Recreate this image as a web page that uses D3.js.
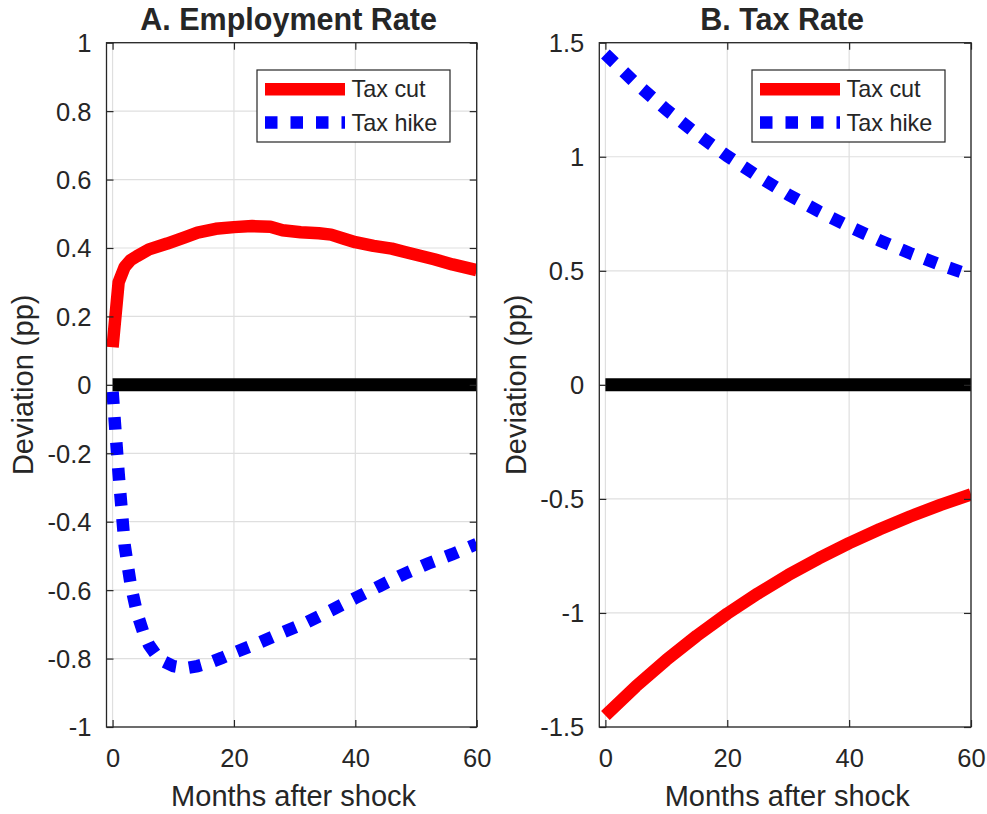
<!DOCTYPE html>
<html>
<head>
<meta charset="utf-8">
<script src="https://cdn.jsdelivr.net/npm/d3@7"></script>
<style>
  html, body { margin: 0; padding: 0; background: #ffffff; }
  svg { display: block; }
  text { font-family: "Liberation Sans", Arial, Helvetica, sans-serif; fill: #262626; }
</style>
</head>
<body>
<svg id="chart" width="987" height="814"></svg>
<script>
// ---------------- Data ----------------
const titles = ["A. Employment Rate", "B. Tax Rate"];
const seriesNames = ["Tax cut", "Tax hike"];
const xTicks = [0, 20, 40, 60];
const yTicksA = [1, 0.8, 0.6, 0.4, 0.2, 0, -0.2, -0.4, -0.6, -0.8, -1];
const yTicksB = [1.5, 1, 0.5, 0, -0.5, -1, -1.5];

// Panel A: employment rate
const monthsCutA = [0, 1, 2, 3, 4, 6, 9, 12, 14, 17, 20, 23, 26, 28, 31, 34, 36, 38, 40, 43, 46, 48, 51, 53, 56, 60];
const cutA = [0.11, 0.30, 0.345, 0.365, 0.376, 0.396, 0.413, 0.432, 0.445, 0.456, 0.461, 0.464, 0.462, 0.452, 0.446, 0.443, 0.439, 0.428, 0.417, 0.406, 0.398, 0.389, 0.376, 0.367, 0.352, 0.335];
const monthsHikeA = [0, 1, 2, 3, 4, 5, 6, 7, 8, 10, 12, 14, 16, 18, 20, 24, 28, 32, 36, 40, 44, 48, 52, 56, 60];
const hikeA = [-0.02, -0.26, -0.47, -0.585, -0.665, -0.72, -0.76, -0.785, -0.805, -0.822, -0.828, -0.822, -0.812, -0.798, -0.783, -0.755, -0.724, -0.694, -0.659, -0.623, -0.588, -0.553, -0.522, -0.495, -0.465];

// Panel B: tax rate
const monthsB = [0, 5, 10, 15, 20, 25, 30, 35, 40, 45, 50, 55, 60];
const cutB = [-1.45, -1.322, -1.206, -1.100, -1.003, -0.915, -0.834, -0.761, -0.694, -0.633, -0.577, -0.526, -0.480];
const hikeB = [1.45, 1.322, 1.206, 1.100, 1.003, 0.915, 0.834, 0.761, 0.694, 0.633, 0.577, 0.526, 0.480];

// ---------------- Styles ----------------
const RED = "#ff0000", BLUE = "#0000ff", BLACK = "#000000";
const AXIS = "#262626", GRID = "#dfdfdf";
const LW = 12.5;
const DOTS = "12.5,13";
const FONT = '"Liberation Sans", Arial, Helvetica, sans-serif';
const fmtNum = d => String(d);

const svg = d3.select("#chart");

const panels = [
  { left: 106.5, right: 476.7, top: 42.7, bottom: 727, yDomain: [-1, 1], yTicks: yTicksA,
    cut: monthsCutA.map((m, i) => [m, cutA[i]]),
    hike: monthsHikeA.map((m, i) => [m, hikeA[i]]),
    legend: { x: 257, y: 70 }, title: titles[0] },
  { left: 599.3, right: 971, top: 42.7, bottom: 727, yDomain: [-1.5, 1.5], yTicks: yTicksB,
    cut: monthsB.map((m, i) => [m, cutB[i]]),
    hike: monthsB.map((m, i) => [m, hikeB[i]]),
    legend: { x: 752, y: 70 }, title: titles[1] }
];

panels.forEach((p, pi) => {
  const x = d3.scaleLinear().domain([-1, 60]).range([p.left, p.right]);
  const y = d3.scaleLinear().domain(p.yDomain).range([p.bottom, p.top]);
  const w = p.right - p.left, h = p.bottom - p.top;
  const g = svg.append("g");

  g.append("rect").attr("x", p.left).attr("y", p.top).attr("width", w).attr("height", h).attr("fill", "#fff");

  // grid
  g.append("g").selectAll("line").data(xTicks).join("line")
    .attr("x1", d => x(d)).attr("x2", d => x(d)).attr("y1", p.top).attr("y2", p.bottom)
    .attr("stroke", GRID).attr("stroke-width", 1.2);
  g.append("g").selectAll("line").data(p.yTicks).join("line")
    .attr("y1", d => y(d)).attr("y2", d => y(d)).attr("x1", p.left).attr("x2", p.right)
    .attr("stroke", GRID).attr("stroke-width", 1.2);

  // clip
  const clipId = "clip" + pi;
  svg.append("defs").append("clipPath").attr("id", clipId)
    .append("rect").attr("x", p.left).attr("y", p.top).attr("width", w).attr("height", h);

  const line = d3.line().x(d => x(d[0])).y(d => y(d[1]));
  const lines = g.append("g").attr("clip-path", `url(#${clipId})`);
  lines.append("path").datum(p.cut).attr("d", line)
    .attr("fill", "none").attr("stroke", RED).attr("stroke-width", LW)
    .attr("stroke-linejoin", "round").attr("stroke-linecap", "butt");
  lines.append("path").datum(p.hike).attr("d", line)
    .attr("fill", "none").attr("stroke", BLUE).attr("stroke-width", LW)
    .attr("stroke-dasharray", DOTS).attr("stroke-linecap", "butt").attr("stroke-linejoin", "miter");
  lines.append("path").datum([[0, 0], [60, 0]]).attr("d", line)
    .attr("fill", "none").attr("stroke", BLACK).attr("stroke-width", 13).attr("stroke-linecap", "butt");

  // axes (inside ticks, box)
  const tl = 7;
  const axB = d3.axisBottom(x).tickValues(xTicks).tickSize(-tl).tickFormat(fmtNum);
  const axT = d3.axisTop(x).tickValues(xTicks).tickSize(-tl).tickFormat("");
  const axL = d3.axisLeft(y).tickValues(p.yTicks).tickSize(-tl).tickPadding(tl + 8).tickFormat(fmtNum);
  const axR = d3.axisRight(y).tickValues(p.yTicks).tickSize(-tl).tickFormat("");

  const gb = g.append("g").attr("transform", `translate(0,${p.bottom})`).call(axB);
  const gt = g.append("g").attr("transform", `translate(0,${p.top})`).call(axT);
  const gl = g.append("g").attr("transform", `translate(${p.left},0)`).call(axL);
  const gr = g.append("g").attr("transform", `translate(${p.right},0)`).call(axR);
  [gb, gt, gl, gr].forEach(a => {
    a.select(".domain").remove();
    a.selectAll(".tick line").attr("stroke", AXIS).attr("stroke-width", 1.2);
    a.selectAll("text").attr("fill", AXIS).style("font-size", "25.5px").style("font-family", FONT);
  });
  gb.selectAll("text").attr("dy", null).attr("y", 40);
  gl.selectAll("text").attr("dy", "0.35em");

  g.append("rect").attr("x", p.left).attr("y", p.top).attr("width", w).attr("height", h)
    .attr("fill", "none").attr("stroke", AXIS).attr("stroke-width", 1.3);

  // labels
  const cx = (p.left + p.right) / 2;
  g.append("text").attr("x", cx - 3).attr("y", 30).attr("text-anchor", "middle")
    .style("font-size", "30.5px").style("font-weight", "bold").attr("fill", "#000").text(p.title);
  g.append("text").attr("x", cx + 2).attr("y", p.bottom + 79).attr("text-anchor", "middle")
    .style("font-size", "29px").text("Months after shock");
  g.append("text")
    .attr("transform", `translate(${p.left - 73.3},${(p.top + p.bottom) / 2}) rotate(-90)`)
    .attr("text-anchor", "middle").style("font-size", "29px").text("Deviation (pp)");

  // legend
  const L = p.legend;
  const lg = g.append("g");
  lg.append("rect").attr("x", L.x).attr("y", L.y).attr("width", 193).attr("height", 72)
    .attr("fill", "#fff").attr("stroke", AXIS).attr("stroke-width", 1.2);
  const items = [
    { name: seriesNames[0], color: RED, dash: null, cy: L.y + 19.3 },
    { name: seriesNames[1], color: BLUE, dash: DOTS, cy: L.y + 52.5 }
  ];
  items.forEach(it => {
    lg.append("line").attr("x1", L.x + 8).attr("x2", L.x + 88).attr("y1", it.cy).attr("y2", it.cy)
      .attr("stroke", it.color).attr("stroke-width", LW).attr("stroke-dasharray", it.dash);
    lg.append("text").attr("x", L.x + 94.5).attr("y", it.cy).attr("dy", "0.35em")
      .style("font-size", "23.4px").attr("fill", "#000").text(it.name);
  });
});
</script>
</body>
</html>
